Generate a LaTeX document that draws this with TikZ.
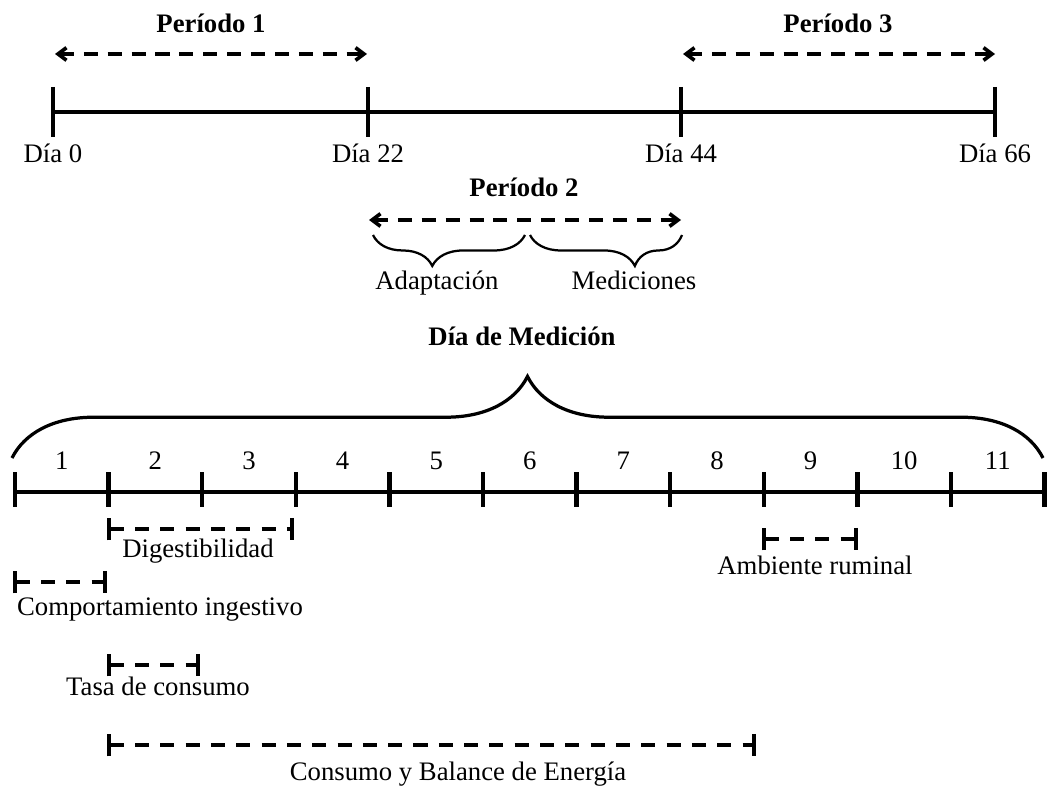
\documentclass[tikz,border=0pt]{standalone}
\usepackage{fontspec}
\setmainfont{Liberation Serif}
\usetikzlibrary{positioning, arrows.meta, decorations.pathreplacing}
\tikzset{
axis/.style={line width=2.5pt}, % the two time lines
tick/.style={line width=3.1pt}, % marks on the time lines
period/.style={line width=2.6pt, dash pattern=on 10pt off 7pt,
  {Straight Barb[length=6pt,width=9pt]}-{Straight Barb[length=6pt,width=9pt]}},
span/.style={line width=2.6pt, dash pattern=on 10pt off 8pt,
  {Bar[width=16pt]}-{Bar[width=16pt]}}, % measurement windows
lbl/.style={font=\fontsize{19}{22}\selectfont, anchor=base, inner sep=0pt},
ttl/.style={lbl, font=\fontsize{19}{22}\selectfont\bfseries},
brc/.style={decorate, line width=#1},
}

\begin{document}
\begin{tikzpicture}[x=0.025cm, y=-0.025cm]
  \useasboundingbox (0,0) rectangle (1047,787);

  % experimental periods
  \foreach \x/\d [count=\i] in {53/0, 368/22, 681/44, 995/66}{
    \coordinate (T\i) at (\x,112);
    \draw[tick] (T\i) ++(0,-25) -- ++(0,50);
    \node[lbl] (dia\i) at (\x,163) {Día \d};
  }
  \draw[axis] (T1) -- (T4);

  \coordinate (p1a) at (55,54);  \coordinate (p1b) at (367,54);
  \coordinate (p3a) at (683,54); \coordinate (p3b) at (995,54);
  \coordinate (p2a) at (369,220); \coordinate (p2b) at (681,220);
  \draw[period] (p1a) -- (p1b);
  \draw[period] (p3a) -- (p3b);
  \draw[period] (p2a) -- (p2b);
  \node[ttl] (per1) at (211,33) {Período 1};
  \node[ttl] (per3) at (838,33) {Período 3};
  \node[ttl] (per2) at (524,197) {Período 2};

  \draw[brc=1.6pt, decoration={brace, mirror, amplitude=22pt, aspect=0.39}]
    (373,235) -- (525,235);
  \draw[brc=1.6pt, decoration={brace, mirror, amplitude=22pt, aspect=0.69}]
    (530,235) -- (682,235);
  \node[lbl] (adap) at (437,290) {Adaptación};
  \node[lbl] (medi) at (634,290) {Mediciones};

  % measurement days
  \node[ttl] (dmed) at (522,346) {Día de Medición};
  \draw[brc=2.3pt, decoration={brace, amplitude=58pt}] (12,458) -- (1043,458);

  \foreach \k in {0,...,11}{
    \coordinate (D\k) at (15+93.6*\k,492);
    \draw[tick] (D\k) ++(0,-20) -- ++(0,35);
  }
  \draw[axis] (D0) -- (D11);
  \foreach \k in {1,...,11}
    \node[lbl] (n\k) at (15+93.6*\k-46.8,470) {\k};

  \foreach \a/\b/\y/\lx/\ly/\t [count=\i] in {
      107/294/529/198/557/Digestibilidad,
      762/858/539/815/574/Ambiente ruminal,
      13/107/582/160/615/Comportamiento ingestivo,
      107/200/665/158/695/Tasa de consumo,
      107/756/745/458/780/Consumo y Balance de Energía}{
    \coordinate (s\i) at (\a,\y);
    \coordinate (e\i) at (\b,\y);
    \draw[span] (s\i) -- (e\i);
    \node[lbl] (act\i) at (\lx,\ly) {\t};
  }
\end{tikzpicture}
\end{document}
